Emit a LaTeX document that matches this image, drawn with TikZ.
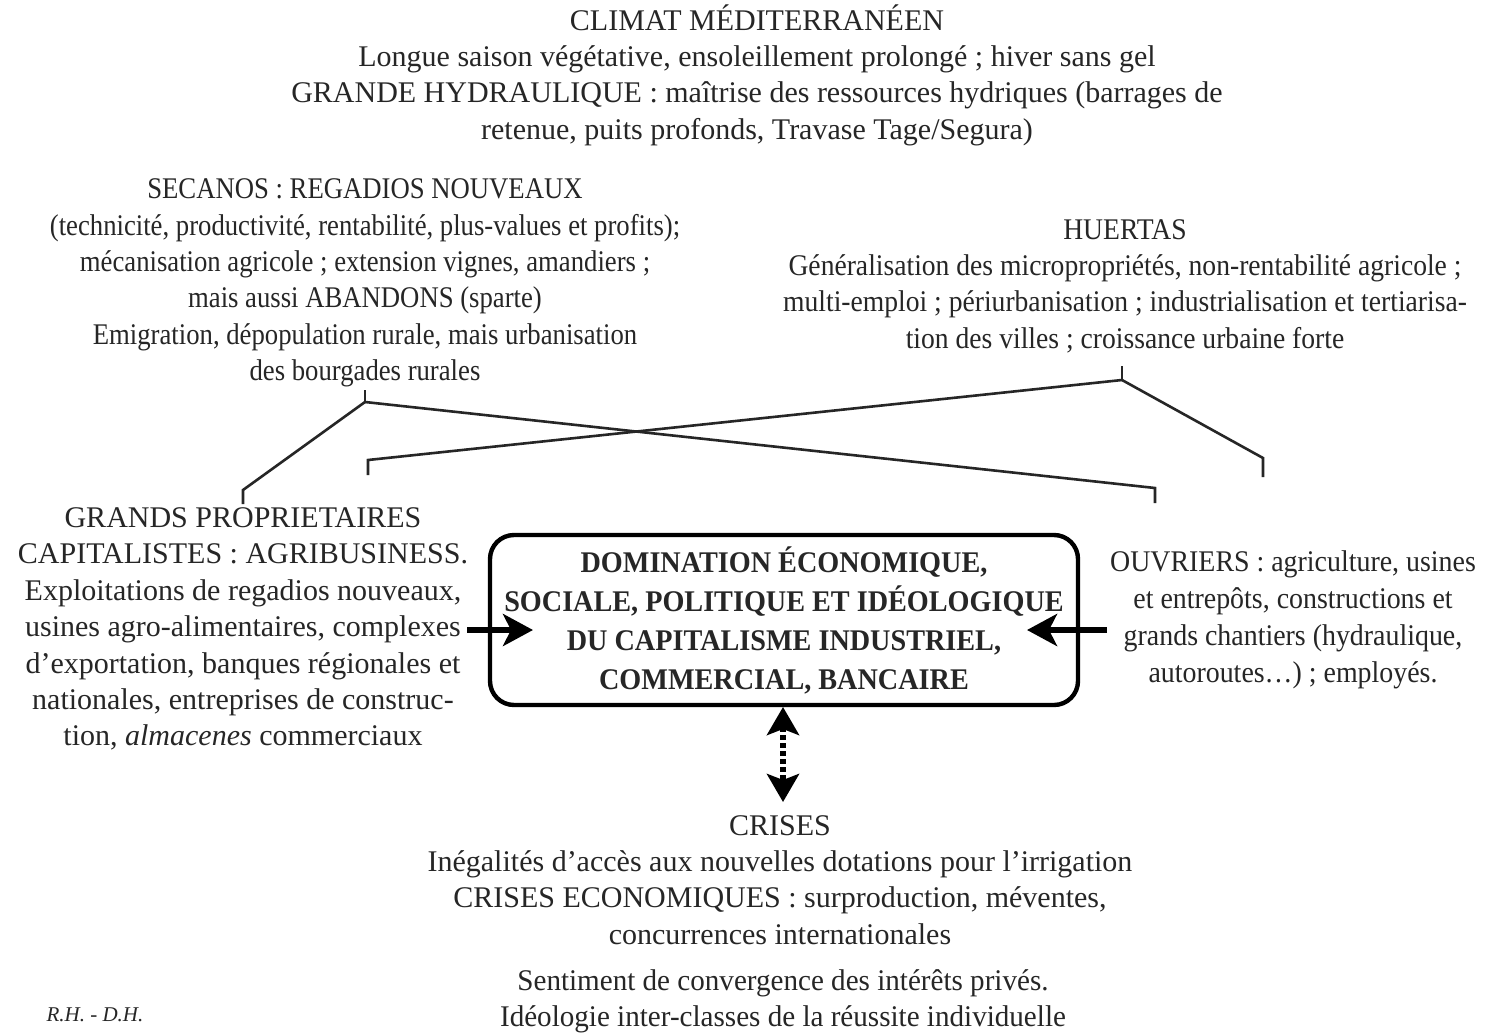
\documentclass[tikz,border=0pt]{standalone}
\usepackage{fontspec}
\setmainfont{Liberation Serif}
\newfontfamily\secfont[FakeStretch=0.89]{Liberation Serif}
\newfontfamily\huefont[FakeStretch=0.92]{Liberation Serif}
\newfontfamily\boxfont[FakeStretch=0.94]{Liberation Serif}
\newfontfamily\ouvfont[FakeStretch=0.93]{Liberation Serif}
\newfontfamily\sentfont[FakeStretch=0.97]{Liberation Serif}
\usetikzlibrary{arrows.meta}
\definecolor{ink}{gray}{0.15}
\begin{document}
\begin{tikzpicture}[x=0.5pt,y=-0.5pt,
  txt/.style={align=center,inner sep=0pt,text=ink,font=\fontsize{15}{18.2}\selectfont},
  conn/.style={draw=ink,line width=1.3pt},
  bigarrow/.style={draw=black,line width=3pt,-{Stealth[length=15pt,width=16pt,inset=4pt]}},
  mainbox/.style={draw=black,line width=2.2pt,rounded corners=12pt,minimum width=294pt,minimum height=85pt}]
\useasboundingbox[fill=white] (0,0) rectangle (1493,1033);

\node[txt] (climat) at (757,75) {CLIMAT MÉDITERRANÉEN\\
Longue saison végétative, ensoleillement prolongé ; hiver sans gel\\
GRANDE HYDRAULIQUE : maîtrise des ressources hydriques (barrages de\\
retenue, puits profonds, Travase Tage/Segura)};

\node[txt,font=\secfont\fontsize{15}{18.2}\selectfont] (secanos) at (365,283) {SECANOS : REGADIOS NOUVEAUX\\
(technicité, productivité, rentabilité, plus-values et profits);\\
mécanisation agricole ; extension vignes, amandiers ;\\
mais aussi ABANDONS (sparte)\\
Emigration, dépopulation rurale, mais urbanisation\\
des bourgades rurales};

\node[txt,font=\huefont\fontsize{15}{18.2}\selectfont] (huertas) at (1125,286) {HUERTAS\\
Généralisation des micropropriétés, non-rentabilité agricole ;\\
multi-emploi ; périurbanisation ; industrialisation et tertiarisa-\\
tion des villes ; croissance urbaine forte};

\node[txt] (grands) at (243,629) {GRANDS PROPRIETAIRES\\
CAPITALISTES : AGRIBUSINESS.\\
Exploitations de regadios nouveaux,\\
usines agro-alimentaires, complexes\\
d’exportation, banques régionales et\\
nationales, entreprises de  construc-\\
tion, \textit{almacenes} commerciaux};

\node[txt,font=\ouvfont\fontsize{15}{18.5}\selectfont] (ouvriers) at (1293,620) {OUVRIERS : agriculture, usines\\
et entrepôts, constructions et\\
grands chantiers (hydraulique,\\
autoroutes…) ; employés.};

\node[mainbox] (box) at (784,620) {};
\node[txt,font=\boxfont\bfseries\fontsize{15}{19.5}\selectfont] (domination) at (784,620) {DOMINATION ÉCONOMIQUE,\\
SOCIALE, POLITIQUE ET IDÉOLOGIQUE\\
DU CAPITALISME INDUSTRIEL,\\
COMMERCIAL, BANCAIRE};

\node[txt] (crises) at (780,880) {CRISES\\
Inégalités d’accès aux nouvelles dotations pour l’irrigation\\
CRISES ECONOMIQUES : surproduction, méventes,\\
concurrences internationales};

\node[txt,font=\sentfont\fontsize{15}{18.2}\selectfont] (sentiment) at (783,1001) {Sentiment de convergence des intérêts privés.\\
Idéologie inter-classes de la réussite individuelle};

\node[txt,font=\itshape\fontsize{10.5}{13}\selectfont] (sign) at (95,1015) {R.H. - D.H.};

% connectors from SECANOS
\coordinate (secT) at (365,390);
\coordinate (secJ) at (365,402);
\coordinate (grT) at (243,490);
\coordinate (grB) at (243,504);
\coordinate (ouT) at (1155,488);
\coordinate (ouB) at (1155,503);
\draw[conn] (secT) -- (secJ);
\draw[conn] (secJ) -- (grT) -- (grB);
\draw[conn] (secJ) -- (ouT) -- (ouB);
% connectors from HUERTAS
\coordinate (huT) at (1122,366);
\coordinate (huJ) at (1122,380);
\coordinate (gr2T) at (368,460);
\coordinate (gr2B) at (368,475);
\coordinate (ou2T) at (1263,458);
\coordinate (ou2B) at (1263,477);
\draw[conn] (huT) -- (huJ);
\draw[conn] (huJ) -- (gr2T) -- (gr2B);
\draw[conn] (huJ) -- (ou2T) -- (ou2B);

% arrows into box
\coordinate (lA) at (467,630);
\coordinate (lB) at (533,630);
\coordinate (rA) at (1107,630);
\coordinate (rB) at (1027,630);
\draw[bigarrow] (lA) -- (lB);
\draw[bigarrow] (rA) -- (rB);

% dotted double arrow
\coordinate (dT) at (783,707);
\coordinate (dB) at (783,802);
\draw[draw=black,line width=3pt,dash pattern=on 2.5pt off 1.5pt,
  {Stealth[length=14pt,width=16pt,inset=3pt]}-{Stealth[length=14pt,width=16pt,inset=3pt]}] (dT) -- (dB);
\end{tikzpicture}
\end{document}
